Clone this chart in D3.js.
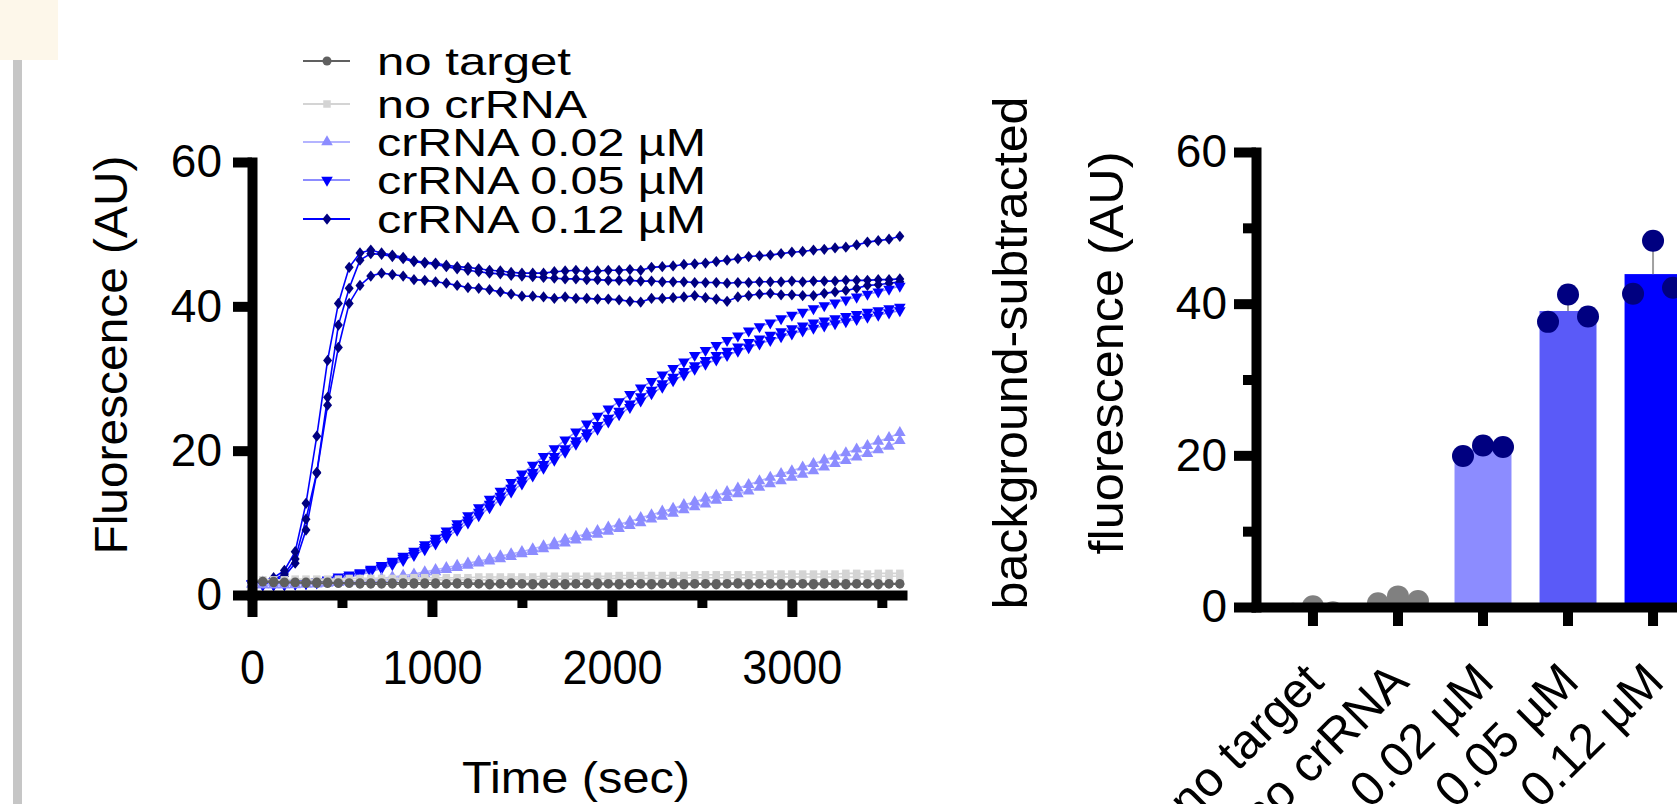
<!DOCTYPE html>
<html>
<head>
<meta charset="utf-8">
<script src="https://cdn.jsdelivr.net/npm/d3@7"></script>
<style>
  body { margin: 0; background: #fff; }
  svg { display: block; font-family: "Liberation Sans", Arial, sans-serif; }
</style>
</head>
<body>
<svg width="1677" height="804"></svg>
<script>
// ---- kinetic read (left panel) ----
var times = [0,60,120,180,240,300,360,420,480,540,600,660,720,780,840,900,960,1020,1080,1140,
  1200,1260,1320,1380,1440,1500,1560,1620,1680,1740,1800,1860,1920,1980,2040,2100,2160,2220,2280,2340,
  2400,2460,2520,2580,2640,2700,2760,2820,2880,2940,3000,3060,3120,3180,3240,3300,3360,3420,3480,3540,3600];

var noTarget1 = [1.9,1.9,1.9,1.8,1.8,1.8,1.8,1.8,1.7,1.7, 1.7,1.7,1.7,1.7,1.7,1.7,1.7,1.7,1.6,1.7,
  1.7,1.6,1.6,1.6,1.7,1.6,1.6,1.6,1.6,1.6, 1.6,1.6,1.7,1.6,1.6,1.6,1.6,1.6,1.6,1.7,
  1.6,1.6,1.6,1.6,1.6,1.7,1.6,1.6,1.6,1.6, 1.6,1.6,1.6,1.7,1.6,1.6,1.6,1.6,1.6,1.6, 1.6];
var noTarget2 = [1.8,1.8,1.7,1.7,1.7,1.6,1.6,1.6,1.6,1.6, 1.5,1.5,1.5,1.5,1.5,1.5,1.5,1.5,1.5,1.5,
  1.5,1.5,1.4,1.5,1.5,1.5,1.4,1.5,1.5,1.4, 1.5,1.5,1.4,1.5,1.4,1.5,1.5,1.4,1.5,1.5,
  1.4,1.5,1.5,1.4,1.5,1.5,1.4,1.5,1.5,1.4, 1.5,1.5,1.4,1.5,1.5,1.4,1.5,1.5,1.4,1.5, 1.5];
var noCrRNA1 = [2.1,2.1,2.1,2.1,2.2,2.2,2.2,2.2,2.2,2.3, 2.3,2.3,2.3,2.3,2.3,2.4,2.4,2.4,2.4,2.4,
  2.4,2.5,2.5,2.5,2.5,2.5,2.5,2.6,2.6,2.6, 2.6,2.6,2.6,2.6,2.7,2.7,2.7,2.7,2.7,2.7,
  2.7,2.8,2.8,2.8,2.8,2.8,2.8,2.8,2.9,2.9, 2.9,2.9,2.9,2.9,2.9,3.0,3.0,2.9,3.0,3.0, 3.0];
var noCrRNA2 = [1.9,1.9,1.9,1.9,1.9,1.9,2.0,2.0,2.0,2.0, 2.0,2.0,2.0,2.0,2.1,2.1,2.1,2.1,2.1,2.1,
  2.1,2.1,2.1,2.2,2.2,2.2,2.2,2.2,2.2,2.2, 2.2,2.3,2.3,2.3,2.3,2.3,2.3,2.3,2.3,2.3,
  2.4,2.4,2.4,2.4,2.4,2.4,2.4,2.4,2.4,2.5, 2.5,2.5,2.5,2.5,2.5,2.5,2.5,2.5,2.6,2.6, 2.6];
var cr002a = [1.5,1.4,1.4,1.4,1.5,1.5,1.6,1.7,1.8,1.9, 2.0,2.2,2.3,2.5,2.7,2.9,3.2,3.5,3.8,4.1,
  4.4,4.7,5.0,5.4,5.7,6.0,6.4,6.8,7.2,7.7, 8.1,8.5,8.9,9.4,9.8,10.2,10.7,11.1,11.6,12.0,
  12.5,12.9,13.4,13.8,14.3,14.8,15.3,15.8,16.3,16.8, 17.2,17.7,18.2,18.7,19.2,19.7,20.2,20.7,21.3,21.8, 22.5];
var cr002b = [1.5,1.4,1.4,1.4,1.4,1.5,1.5,1.6,1.7,1.8, 1.9,2.0,2.2,2.3,2.5,2.7,2.9,3.2,3.5,3.8,
  4.1,4.4,4.7,5.0,5.3,5.7,6.0,6.4,6.8,7.2, 7.6,8.0,8.4,8.8,9.2,9.6,10.0,10.5,10.9,11.3,
  11.8,12.2,12.6,13.1,13.5,14.0,14.4,14.9,15.4,15.8, 16.3,16.7,17.2,17.7,18.2,18.6,19.1,19.6,20.1,20.6, 21.4];
var cr005a = [1.6,1.5,1.5,1.5,1.6,1.7,1.9,2.1,2.5,2.8, 3.1,3.6,4.1,4.7,5.4,6.1,7.0,7.9,8.9,9.9,
  11.0,12.1,13.3,14.4,15.6,16.8,18.0,19.2,20.3,21.5, 22.6,23.7,24.8,25.8,26.8,27.8,28.7,29.6,30.5,31.4,
  32.3,33.2,33.9,34.6,35.3,35.9,36.6,37.2,37.7,38.3, 38.8,39.2,39.7,40.1,40.5,40.9,41.3,41.7,42.0,42.4, 42.8];
var cr005b = [1.5,1.4,1.4,1.4,1.5,1.6,1.7,1.9,2.2,2.5, 2.8,3.2,3.7,4.2,4.8,5.5,6.3,7.1,8.0,9.0,
  10.0,11.0,12.1,13.2,14.3,15.4,16.5,17.6,18.7,19.8, 20.9,22.0,23.0,24.0,25.0,26.0,26.9,27.9,28.8,29.7,
  30.5,31.3,32.0,32.6,33.2,33.8,34.3,34.8,35.3,35.8, 36.2,36.6,37.0,37.3,37.6,37.9,38.2,38.5,38.8,39.1, 39.4];
var cr005c = [1.5,1.4,1.4,1.5,1.6,1.7,1.8,2.0,2.3,2.6, 3.0,3.4,3.9,4.5,5.1,5.8,6.6,7.5,8.4,9.4,
  10.4,11.5,12.6,13.7,14.8,15.9,17.0,18.1,19.2,20.3, 21.4,22.5,23.5,24.5,25.5,26.5,27.5,28.4,29.3,30.2,
  31.0,31.8,32.5,33.2,33.8,34.4,35.0,35.5,36.0,36.5, 36.9,37.3,37.7,38.0,38.3,38.6,38.9,39.2,39.4,39.7, 39.9];
var cr012a = [1.9,1.9,2.4,3.4,6.0,12.7,22.0,32.5,40.4,45.4, 47.4,47.8,47.4,47.1,46.8,46.3,46.1,46.0,45.7,45.5,
  45.4,45.2,45.0,44.9,44.7,44.6,44.6,44.6,44.8,44.9, 45.0,44.8,44.9,45.0,45.0,45.1,45.0,45.4,45.5,45.6,
  45.8,45.9,46.0,46.2,46.4,46.6,46.9,47.0,47.1,47.3, 47.5,47.6,47.8,47.9,48.1,48.2,48.5,48.9,49.1,49.3, 49.7];
var cr012b = [1.9,1.8,2.1,2.9,5.0,10.5,17.0,27.4,37.4,42.5, 46.4,47.3,47.2,46.9,46.6,46.2,46.0,45.8,45.5,45.2,
  45.0,44.8,44.6,44.5,44.3,44.2,44.1,44.0,43.9,43.8, 43.8,43.7,43.7,43.6,43.6,43.6,43.5,43.5,43.4,43.4,
  43.4,43.3,43.3,43.3,43.2,43.3,43.3,43.4,43.4,43.4, 43.5,43.4,43.5,43.5,43.5,43.6,43.6,43.6,43.7,43.7, 43.8];
var cr012c = [1.8,1.8,2.0,2.6,4.4,9.0,16.9,26.3,34.3,40.4, 42.9,44.2,44.6,44.4,44.2,43.7,43.6,43.4,43.2,42.9,
  42.6,42.5,42.3,42.0,41.7,41.4,41.4,41.3,41.1,41.3, 41.1,41.1,41.0,41.0,40.9,40.7,40.6,41.1,41.1,41.2,
  41.3,41.5,41.2,41.0,40.7,41.3,41.5,41.7,41.8,41.6, 41.6,41.5,41.5,41.8,42.0,42.2,42.5,42.9,43.0,43.2, 43.4];

var timeTicks = [0, 1000, 2000, 3000];
var timeMinor = [500, 1500, 2500, 3500];
var fluoTicks = [0, 20, 40, 60];

// ---- end point (right panel) ----
var barCats = ["no target", "no crRNA", "0.02 µM", "0.05 µM", "0.12 µM"];
var rep1 = [-0.9, 0.5, 19.9, 37.6, 41.3];
var rep2 = [0.1, 1.4, 21.3, 41.2, 48.3];
var rep3 = [-0.7, 0.8, 21.1, 38.3, 42.1];
var barTicks = [0, 20, 40, 60];
var barMinor = [10, 30, 50];

var svg = d3.select("svg");
var FONT = '"Liberation Sans", Arial, sans-serif';

// scanned-page leftovers
svg.append("rect").attr("width", 58).attr("height", 60).attr("fill", "#fdf7ea");
svg.append("rect").attr("x", 13).attr("y", 60).attr("width", 9).attr("height", 744).attr("fill", "#c6c6c6");

// ---------- left: kinetics ----------
var x = d3.scaleLinear().domain([0, 3612]).range([252, 902]);
var y = d3.scaleLinear().domain([0, 60]).range([595, 162]);

var diamond = {
  draw: function(ctx, size) {
    var r = Math.sqrt(size) / 2;
    ctx.moveTo(0, -r * 1.25); ctx.lineTo(r, 0); ctx.lineTo(0, r * 1.25); ctx.lineTo(-r, 0); ctx.closePath();
  }
};
var shapes = {
  circle: { type: d3.symbolCircle, size: 64, rot: 0 },
  square: { type: d3.symbolSquare, size: 56, rot: 0 },
  up: { type: d3.symbolTriangle, size: 58, rot: 0 },
  down: { type: d3.symbolTriangle, size: 58, rot: 180 },
  diamond: { type: diamond, size: 81, rot: 0 }
};

var groups = [
  { name: "no target", reps: [noTarget1, noTarget2], line: "#606060", fill: "#606060", shape: "circle" },
  { name: "no crRNA", reps: [noCrRNA1, noCrRNA2], line: "#d4d4d4", fill: "#d4d4d4", shape: "square" },
  { name: "crRNA 0.02 µM", reps: [cr002a, cr002b], line: "#b4b4ff", fill: "#8c8cff", shape: "up" },
  { name: "crRNA 0.05 µM", reps: [cr005a, cr005b, cr005c], line: "#8c8cff", fill: "#0000ff", shape: "down" },
  { name: "crRNA 0.12 µM", reps: [cr012a, cr012b, cr012c], line: "#0000ff", fill: "#000080", shape: "diamond" }
];

var line = d3.line().x(function(d, i) { return x(times[i]); }).y(function(d) { return y(d); });

function symbolPath(shape) {
  var s = shapes[shape];
  return d3.symbol().type(s.type).size(s.size)();
}

var plot = svg.append("g");
groups.slice().reverse().forEach(function(g) {
  var gg = plot.append("g");
  g.reps.forEach(function(rep) {
    gg.append("path").attr("d", line(rep)).attr("fill", "none")
      .attr("stroke", g.line).attr("stroke-width", 1.6);
  });
  g.reps.forEach(function(rep) {
    gg.selectAll(null).data(rep).enter().append("path")
      .attr("d", symbolPath(g.shape))
      .attr("transform", function(d, i) {
        return "translate(" + x(times[i]) + "," + y(d) + ") rotate(" + shapes[g.shape].rot + ")";
      })
      .attr("fill", g.fill);
  });
});

function styleAxis(sel, fontSize) {
  sel.attr("font-family", FONT).attr("font-size", fontSize);
  sel.select(".domain").attr("stroke", "#000").attr("stroke-width", 10).attr("stroke-linecap", "square");
  sel.selectAll(".tick line").attr("stroke", "#000").attr("stroke-width", 10);
  sel.selectAll(".tick text").attr("fill", "#000");
}

var gxMinor = svg.append("g").attr("transform", "translate(0,595)")
  .call(d3.axisBottom(x).tickValues(timeMinor).tickSize(13).tickFormat(""));
gxMinor.select(".domain").remove();
gxMinor.selectAll(".tick line").attr("stroke", "#000").attr("stroke-width", 10);

var gx = svg.append("g").attr("transform", "translate(0,595)")
  .call(d3.axisBottom(x).tickValues(timeTicks).tickSize(22).tickSizeOuter(0).tickPadding(33).tickFormat(d3.format("d")));
styleAxis(gx, 48);
gx.selectAll(".tick text")
  .attr("textLength", function(d) { return 25 * String(d).length; })
  .attr("lengthAdjust", "spacingAndGlyphs");

var gy = svg.append("g").attr("transform", "translate(252,0)")
  .call(d3.axisLeft(y).tickValues(fluoTicks).tickSize(19).tickSizeOuter(0).tickPadding(11));
styleAxis(gy, 46);

svg.append("text").attr("x", 576).attr("y", 793).attr("text-anchor", "middle")
  .attr("font-family", FONT).attr("font-size", 44)
  .attr("textLength", 228).attr("lengthAdjust", "spacingAndGlyphs").text("Time (sec)");

svg.append("text").attr("transform", "translate(127,355) rotate(-90)").attr("text-anchor", "middle")
  .attr("font-family", FONT).attr("font-size", 47)
  .attr("textLength", 399).attr("lengthAdjust", "spacingAndGlyphs").text("Fluorescence (AU)");

// legend
var legendY = [61, 104, 142, 180, 219];
var legendW = [194, 210, 329, 329, 329];
var legend = svg.append("g");
groups.forEach(function(g, i) {
  var ly = legendY[i];
  legend.append("line").attr("x1", 303).attr("x2", 350).attr("y1", ly).attr("y2", ly)
    .attr("stroke", g.line).attr("stroke-width", 2);
  legend.append("path").attr("d", symbolPath(g.shape))
    .attr("transform", "translate(327," + ly + ") rotate(" + shapes[g.shape].rot + ")")
    .attr("fill", g.fill);
  legend.append("text").attr("x", 377).attr("y", ly + 14)
    .attr("font-family", FONT).attr("font-size", 39)
    .attr("textLength", legendW[i]).attr("lengthAdjust", "spacingAndGlyphs").text(g.name);
});

// ---------- right: end point bars ----------
var xb = d3.scaleBand().domain(barCats).range([1256, 1710]).paddingInner(0.33).paddingOuter(0.335);
var yb = d3.scaleLinear().domain([0, 60]).range([607, 152]);
var barFill = ["#808080", "#808080", "#8c8cff", "#5a5af8", "#0000ff"];
var dotFill = ["#808080", "#808080", "#000080", "#000080", "#000080"];
var jitter = [-20, 0, 20];

var stats = barCats.map(function(c, i) {
  var v = [rep1[i], rep2[i], rep3[i]];
  return { cat: c, vals: v, mean: d3.mean(v), sd: d3.deviation(v), i: i };
});

svg.append("clipPath").attr("id", "clipBars").append("rect")
  .attr("x", 1256).attr("y", 0).attr("width", 500).attr("height", 607);

var bars = svg.append("g").attr("clip-path", "url(#clipBars)");
bars.selectAll("rect").data(stats).enter().append("rect")
  .attr("x", function(d) { return xb(d.cat); })
  .attr("width", xb.bandwidth())
  .attr("y", function(d) { return yb(Math.max(d.mean, 0)); })
  .attr("height", function(d) { return Math.abs(yb(d.mean) - yb(0)); })
  .attr("fill", function(d) { return barFill[d.i]; });

bars.selectAll("line.err").data(stats).enter().append("line").attr("class", "err")
  .attr("x1", function(d) { return xb(d.cat) + xb.bandwidth() / 2; })
  .attr("x2", function(d) { return xb(d.cat) + xb.bandwidth() / 2; })
  .attr("y1", function(d) { return yb(d.mean); })
  .attr("y2", function(d) { return yb(d.mean + d.sd); })
  .attr("stroke", "#a0a0a0").attr("stroke-width", 2);

stats.forEach(function(s) {
  bars.selectAll(null).data(s.vals).enter().append("circle")
    .attr("cx", function(d, j) { return xb(s.cat) + xb.bandwidth() / 2 + jitter[j]; })
    .attr("cy", function(d) { return yb(d); })
    .attr("r", 11)
    .attr("fill", dotFill[s.i]);
});

var gbx = svg.append("g").attr("transform", "translate(0,607)")
  .call(d3.axisBottom(xb).tickSize(19).tickSizeOuter(0).tickFormat(""));
styleAxis(gbx, 45);

var gbyMinor = svg.append("g").attr("transform", "translate(1256,0)")
  .call(d3.axisLeft(yb).tickValues(barMinor).tickSize(13).tickFormat(""));
gbyMinor.select(".domain").remove();
gbyMinor.selectAll(".tick line").attr("stroke", "#000").attr("stroke-width", 10);

var gby = svg.append("g").attr("transform", "translate(1256,0)")
  .call(d3.axisLeft(yb).tickValues(barTicks).tickSize(22).tickSizeOuter(0).tickPadding(7));
styleAxis(gby, 46);

svg.append("g").selectAll("text").data(barCats).enter().append("text")
  .attr("transform", function(d) {
    return "translate(" + (xb(d) + xb.bandwidth() / 2 + 13) + ",684) rotate(-45)";
  })
  .attr("text-anchor", "end")
  .attr("font-family", FONT).attr("font-size", 49)
  .text(function(d) { return d; });

svg.append("text").attr("transform", "translate(1027,353) rotate(-90)").attr("text-anchor", "middle")
  .attr("font-family", FONT).attr("font-size", 48)
  .attr("textLength", 513).attr("lengthAdjust", "spacingAndGlyphs").text("background-subtracted");
svg.append("text").attr("transform", "translate(1123,353) rotate(-90)").attr("text-anchor", "middle")
  .attr("font-family", FONT).attr("font-size", 48)
  .attr("textLength", 403).attr("lengthAdjust", "spacingAndGlyphs").text("fluorescence (AU)");
</script>
</body>
</html>
